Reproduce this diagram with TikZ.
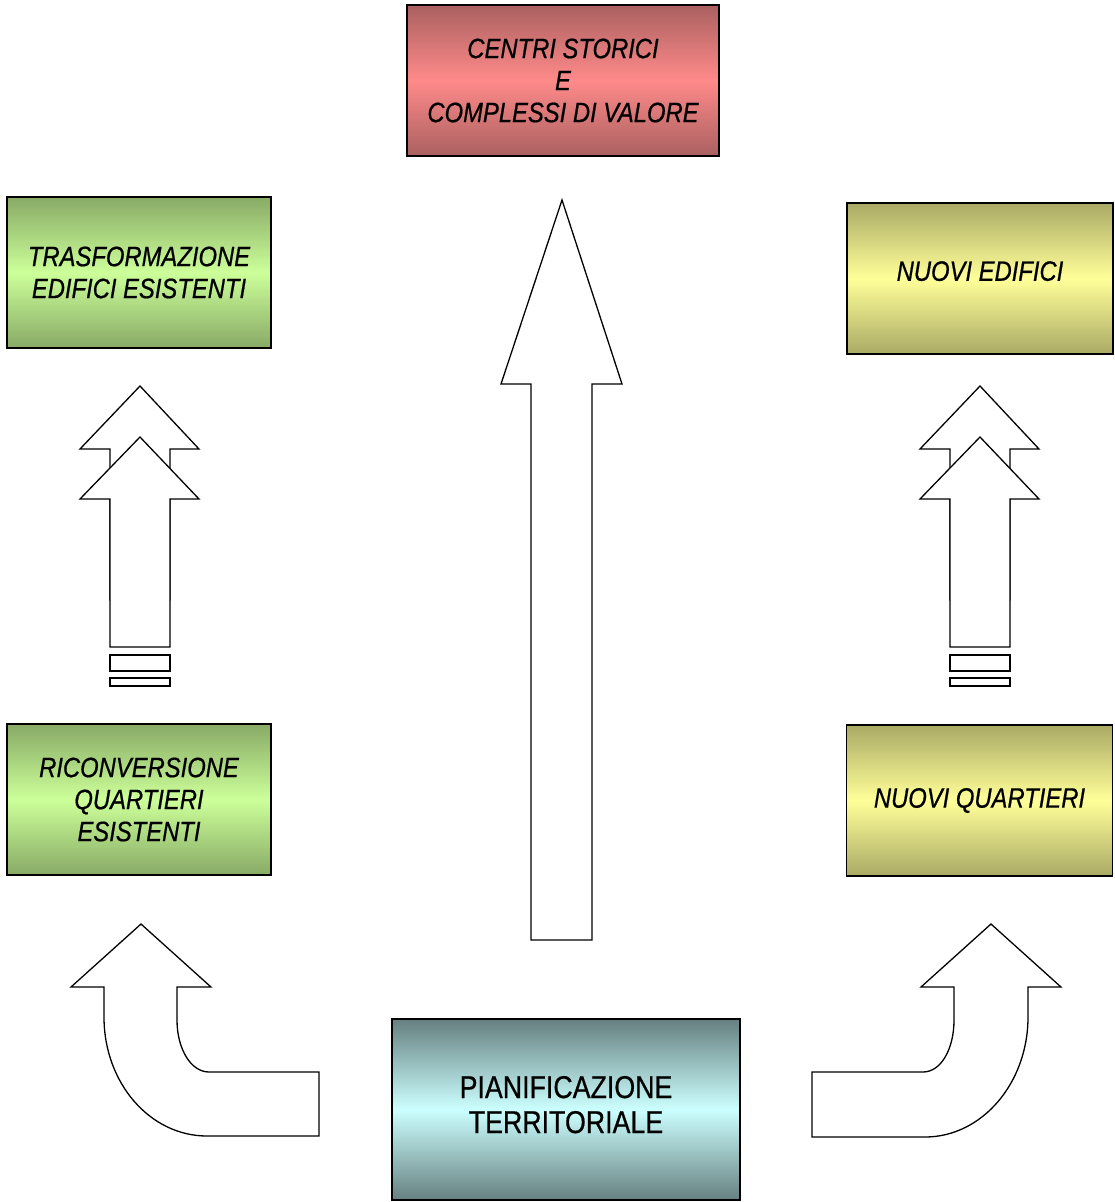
\documentclass[tikz,border=0pt]{standalone}
\usepackage{fontspec}
\setmainfont[FakeStretch=0.85, FakeBold=0.6]{Liberation Sans}
\usepackage{xcolor}
\usepackage{tikz}

\definecolor{reddark}{RGB}{170,96,96}
\definecolor{redlight}{RGB}{255,138,138}
\definecolor{greendark}{RGB}{136,170,102}
\definecolor{greenlight}{RGB}{204,255,153}
\definecolor{yellowdark}{RGB}{170,170,102}
\definecolor{yellowlight}{RGB}{255,255,153}
\definecolor{tealdark}{RGB}{102,128,128}
\definecolor{teallight}{RGB}{204,255,255}

\begin{document}
\begin{tikzpicture}[
    x=1pt, y=-1pt,
    box/.style={draw, line width=1.6pt, minimum height=151pt, align=center, font=\itshape\fontsize{28}{32}\selectfont},
    redbox/.style={box, minimum width=312pt, top color=reddark, bottom color=reddark, middle color=redlight},
    greenbox/.style={box, minimum width=264pt, top color=greendark, bottom color=greendark, middle color=greenlight},
    yellowbox/.style={box, minimum width=266pt, top color=yellowdark, bottom color=yellowdark, middle color=yellowlight},
    tealbox/.style={box, minimum width=348pt, minimum height=181pt, font=\fontsize{31.5}{35}\selectfont, top color=tealdark, bottom color=tealdark, middle color=teallight},
    blockarrow/.style={draw, fill=white, line width=1.3pt, line join=miter}
]
    \useasboundingbox (0,0) rectangle (1115,1202);

    % Blocks
    \node[redbox]    (centri)  at (563,80.5)   {CENTRI STORICI\\E\\COMPLESSI DI VALORE};
    \node[greenbox]  (trasf)   at (139,272.5)  {TRASFORMAZIONE\\EDIFICI ESISTENTI};
    \node[yellowbox, text depth=15pt] (edifici) at (980,278.5) {NUOVI EDIFICI};
    \node[greenbox]  (riconv)  at (139,799.5)  {RICONVERSIONE\\QUARTIERI\\ESISTENTI};
    \node[yellowbox] (quart)   at (979.5,800.5) {NUOVI QUARTIERI};
    \node[tealbox, text depth=10pt] (pianif) at (566,1109.5) {PIANIFICAZIONE\\TERRITORIALE};

    % Big arrow to the top block
    \draw[blockarrow] (531,940) -- (531,384) -- (501,384) -- (562,200) -- (622,384) -- (592,384) -- (592,940) -- cycle;

    % Double arrows, left and right column
    \foreach \dx in {0,840} {
        \begin{scope}[shift={(\dx,0)}]
            \draw[blockarrow] (110,600) -- (110,449) -- (80,449) -- (140,386) -- (199,449) -- (170,449) -- (170,600) -- cycle;
            \draw[blockarrow] (110,647) -- (110,499) -- (80,499) -- (140,437) -- (199,499) -- (170,499) -- (170,647) -- cycle;
            \draw[blockarrow] (110,655) rectangle (170,671);
            \draw[blockarrow] (110,678) rectangle (170,686);
        \end{scope}
    }

    % Curved arrows from the bottom block
    \draw[blockarrow] (319,1136) -- (207,1136) .. controls (150,1136) and (104,1083) .. (104,1017)
        -- (104,987) -- (71,987) -- (141,924) -- (211,987) -- (177,987) -- (177,1020)
        .. controls (177,1049) and (191,1072) .. (209,1072) -- (319,1072) -- cycle;
    \draw[blockarrow] (812,1137) -- (925,1137) .. controls (982,1137) and (1028,1083) .. (1028,1017)
        -- (1028,987) -- (1061,987) -- (991,924) -- (921,987) -- (954,987) -- (954,1020)
        .. controls (954,1049) and (941,1072) .. (923,1072) -- (812,1072) -- cycle;
\end{tikzpicture}
\end{document}
